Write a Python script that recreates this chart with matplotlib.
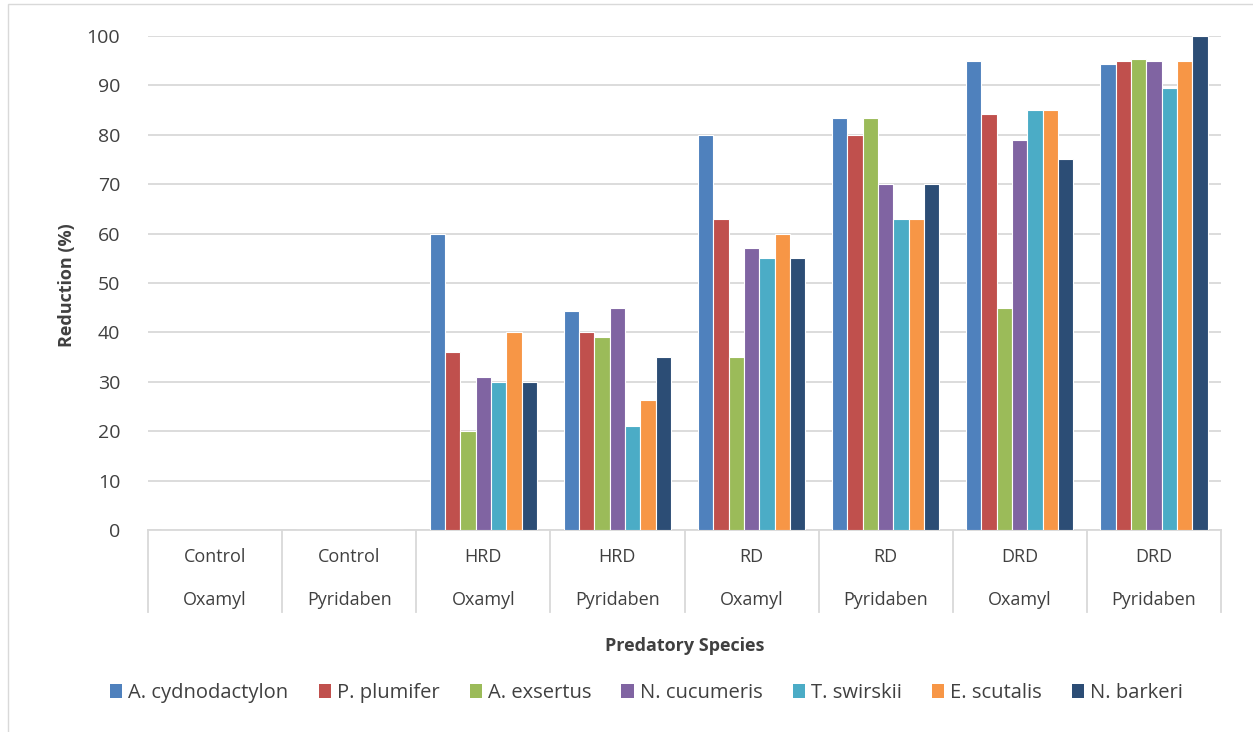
import numpy as np
import matplotlib.pyplot as plt
from matplotlib.patches import Patch

# Treatment groups (two-level category axis)
level1 = ["Control", "Control", "HRD", "HRD", "RD", "RD", "DRD", "DRD"]
level2 = ["Oxamyl", "Pyridaben", "Oxamyl", "Pyridaben",
          "Oxamyl", "Pyridaben", "Oxamyl", "Pyridaben"]

species = ["A. cydnodactylon", "P. plumifer", "A. exsertus", "N. cucumeris",
           "T. swirskii", "E. scutalis", "N. barkeri"]
colors = ["#4F81BD", "#C0504D", "#9BBB59", "#8064A2",
          "#4BACC6", "#F79646", "#2C4D75"]

# Reduction (%) per species, one value per group
a_cydnodactylon = [0, 0, 60, 44.4, 80, 83.3, 95, 94.4]
p_plumifer      = [0, 0, 36, 40, 63, 80, 84.2, 95]
a_exsertus      = [0, 0, 20, 39, 35, 83.3, 45, 95.4]
n_cucumeris     = [0, 0, 31, 45, 57, 70, 79, 95]
t_swirskii      = [0, 0, 30, 21, 55, 63, 85, 89.4]
e_scutalis      = [0, 0, 40, 26.3, 60, 63, 85, 95]
n_barkeri       = [0, 0, 30, 35, 55, 70, 75, 100]

series = [a_cydnodactylon, p_plumifer, a_exsertus, n_cucumeris,
          t_swirskii, e_scutalis, n_barkeri]

plt.rcParams["font.family"] = ["Open Sans", "DejaVu Sans"]
text_color = "#404040"
fs = 13

fig = plt.figure(figsize=(12.53, 7.32), dpi=100)
ax = fig.add_axes([148 / 1253, 202 / 732, 1073 / 1253, 494 / 732])

x = np.arange(len(level1))
n = len(series)
bar_w = 0.8 / n
for i, (vals, c) in enumerate(zip(series, colors)):
    ax.bar(x - 0.4 + bar_w * (i + 0.5), vals, width=bar_w, color=c,
           edgecolor="white", linewidth=0.8, zorder=3)

ax.set_xlim(-0.5, len(level1) - 0.5)
ax.set_ylim(0, 100)
ax.set_yticks(range(0, 101, 10))
ax.grid(axis="y", color="#d9d9d9", linewidth=1.3, zorder=0)
ax.set_axisbelow(True)
for s in ["top", "right", "left"]:
    ax.spines[s].set_visible(False)
ax.spines["bottom"].set_color("#d9d9d9")
ax.spines["bottom"].set_linewidth(1.3)
ax.tick_params(axis="both", length=0, labelsize=14, labelcolor=text_color)
ax.tick_params(axis="y", pad=20)
ax.set_xticks([])

# Two-row category labels with separators
trans = ax.get_xaxis_transform()
sep_depth = -82 / 494
for b in np.arange(-0.5, len(level1), 1.0):
    ax.plot([b, b], [0, sep_depth], transform=trans, color="#d9d9d9",
            linewidth=1.3, clip_on=False)
for xi, t1, t2 in zip(x, level1, level2):
    ax.text(xi, -27 / 494, t1, transform=trans, ha="center", va="center",
            fontsize=fs, color=text_color)
    ax.text(xi, -70 / 494, t2, transform=trans, ha="center", va="center",
            fontsize=fs, color=text_color)

fig.text(67 / 1253, 1 - 285 / 732, "Reduction (%)", rotation=90,
         ha="center", va="center", fontsize=fs, fontweight="bold",
         color=text_color)
fig.text(0.5 * (148 + 1221) / 1253, 1 - 646 / 732, "Predatory Species",
         ha="center", va="center", fontsize=fs, fontweight="bold",
         color=text_color)

handles = [Patch(facecolor=c, edgecolor="none") for c in colors]
fig.legend(handles, species, loc="center", ncol=7,
           bbox_to_anchor=(0.5 * (103 + 1190) / 1253, 1 - 693 / 732),
           frameon=False, fontsize=14.5, handlelength=0.6, handleheight=0.7,
           handletextpad=0.3, columnspacing=1.5, labelcolor=text_color)

# Chart-area border
fig.patches.append(plt.Rectangle((8 / 1253, -0.01), 1.0, 1.0 - 4 / 732 + 0.01,
                                 transform=fig.transFigure, fill=False,
                                 edgecolor="#d9d9d9", linewidth=1.0))

fig.savefig("out.png", dpi=100)
